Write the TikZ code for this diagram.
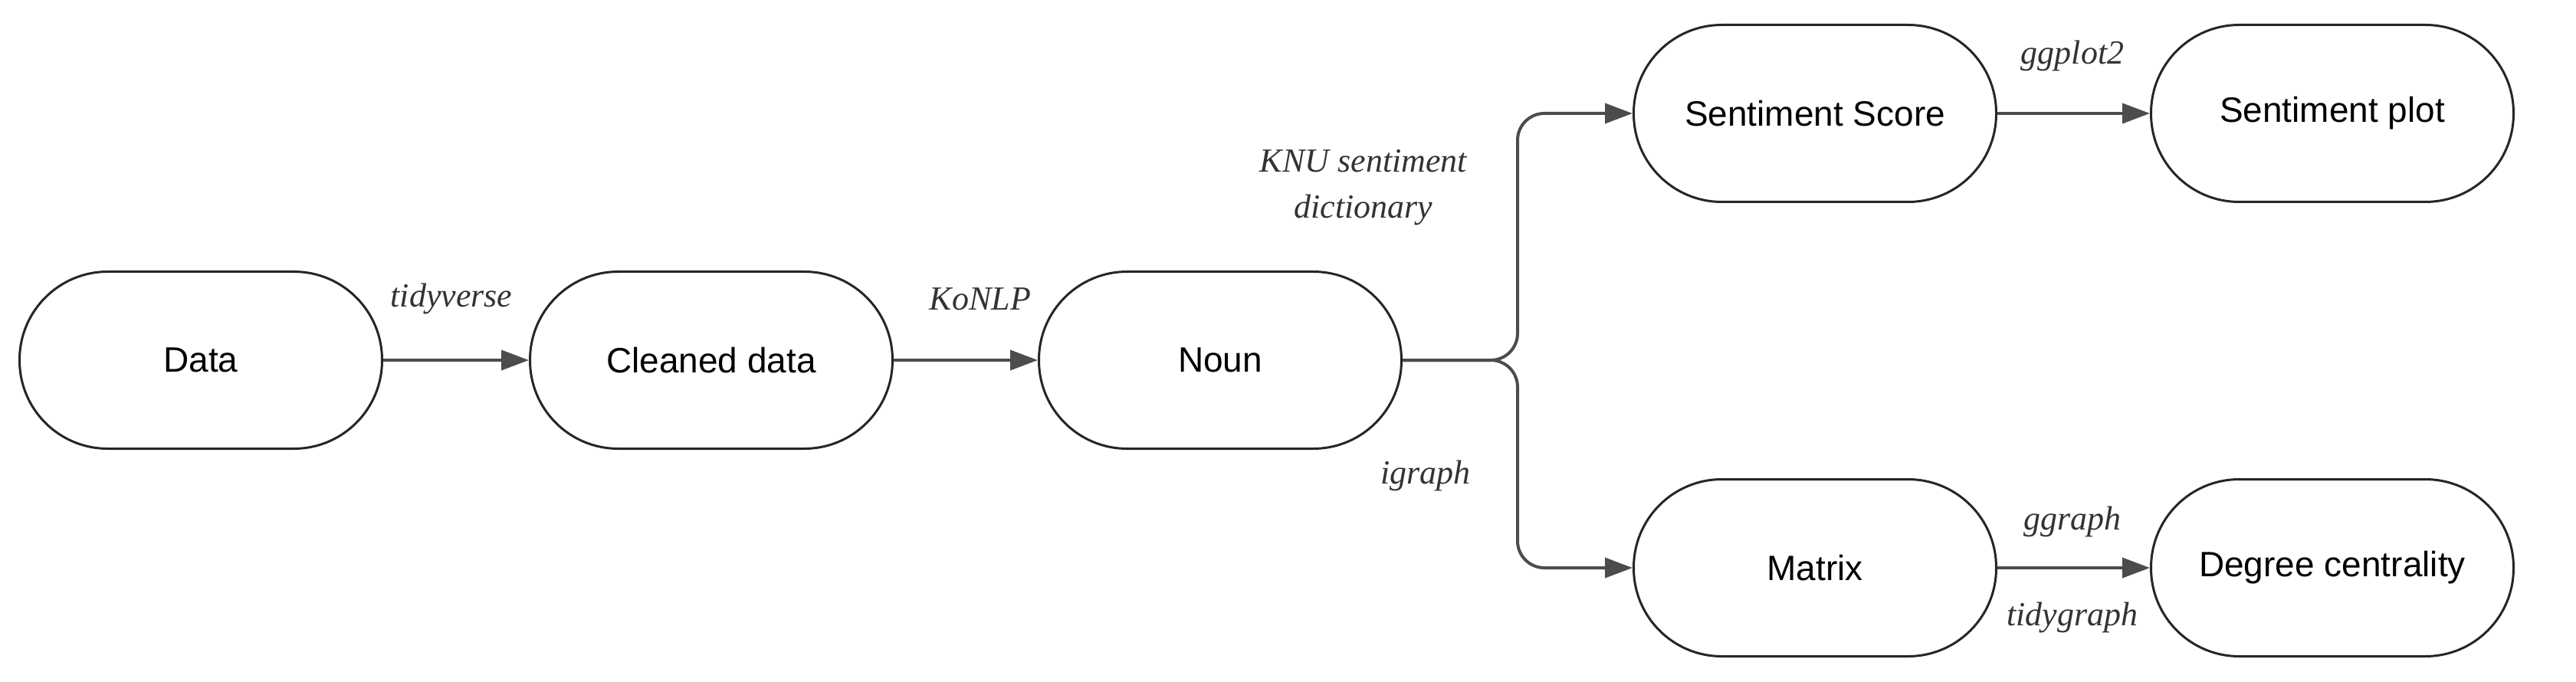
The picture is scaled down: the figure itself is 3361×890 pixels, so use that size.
\documentclass[tikz,border=0pt]{standalone}
\usepackage{fontspec}
\setmainfont{Liberation Sans}
\newfontfamily\lblfont{Liberation Serif}
\usetikzlibrary{arrows.meta}
\begin{document}
\begin{tikzpicture}[x=1pt,y=-1pt,
  box/.style={draw=black!85,line width=3pt,rounded corners=115pt,minimum width=473pt,minimum height=231pt,inner sep=0pt,font=\fontsize{46}{50}\selectfont},
  arr/.style={draw=black!70,line width=4pt,-{Triangle[length=36pt,width=26pt]},color=black!70},
  lbl/.style={font=\lblfont\itshape\fontsize{44}{60}\selectfont,text=black!80,align=center}]
\useasboundingbox (0,0) rectangle (3361,890);
\node[box] (data) at (262,470) {Data};
\node[box] (clean) at (928,470) {Cleaned data};
\node[box] (noun) at (1592,470) {Noun};
\node[box] (ss) at (2368,148) {Sentiment Score};
\node[box] (sp) at (3043,148) {Sentiment plot};
\node[box] (mat) at (2368,741) {Matrix};
\node[box] (deg) at (3043,741) {Degree centrality};
\draw[arr] (data) -- (clean);
\draw[arr] (clean) -- (noun);
\draw[arr,rounded corners=35pt] (noun.east) -| (1980,148) -- (ss.west);
\draw[arr,rounded corners=35pt] (noun.east) -| (1980,741) -- (mat.west);
\draw[arr] (ss) -- (sp);
\draw[arr] (mat) -- (deg);
\node[lbl] at (589,390) {tidyverse};
\node[lbl] at (1279,390) {KoNLP};
\node[lbl] at (1779,245) {KNU sentiment\\dictionary};
\node[lbl] at (1860,621) {igraph};
\node[lbl] at (2704,73) {ggplot2};
\node[lbl] at (2704,681) {ggraph};
\node[lbl] at (2704,806) {tidygraph};
\end{tikzpicture}
\end{document}
